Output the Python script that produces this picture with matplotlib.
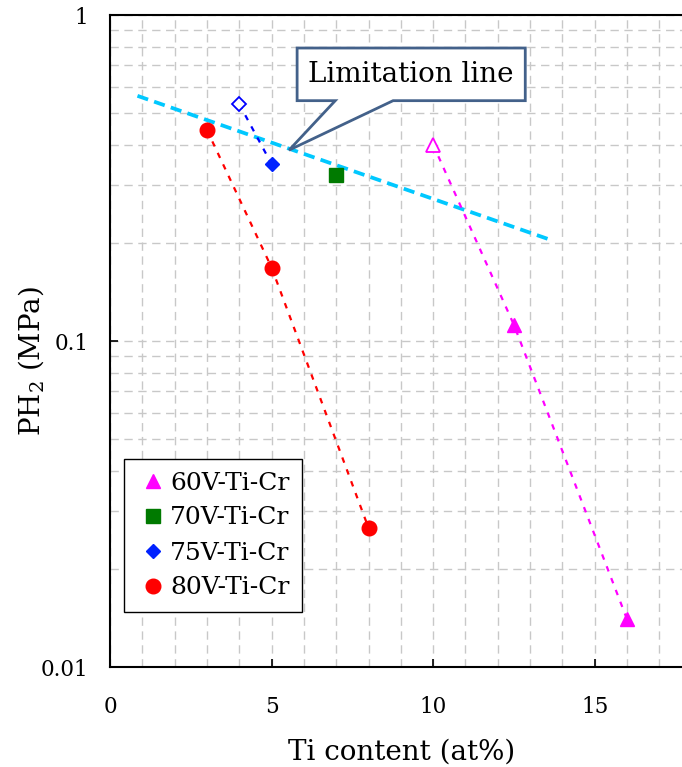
import matplotlib
matplotlib.use("Agg")
import matplotlib.pyplot as plt
from matplotlib.patches import Polygon
from matplotlib.ticker import FixedLocator, MultipleLocator, FuncFormatter, LogLocator, NullFormatter

plt.rcParams['font.family'] = ['DejaVu Serif']
plt.rcParams['mathtext.fontset'] = 'dejavuserif'

# ---- data ----
v60_x = [10.0, 12.5, 16.0]
v60_y = [0.40, 0.112, 0.014]
v70_x = [7.0]
v70_y = [0.323]
v75_x = [4.0, 5.0]
v75_y = [0.533, 0.349]
v80_x = [3.0, 5.0, 8.0]
v80_y = [0.444, 0.168, 0.0267]
limit_x = [0.85, 13.65]
limit_y = [0.565, 0.204]

series_labels = ['60V-Ti-Cr', '70V-Ti-Cr', '75V-Ti-Cr', '80V-Ti-Cr']
x_ticks = [0, 5, 10, 15]
y_ticks = [0.01, 0.1, 1]
annot_text = 'Limitation line'

# ---- figure ----
fig = plt.figure(figsize=(6.82, 7.67), dpi=100)
ax = fig.add_axes([110 / 682, 1 - 667 / 767, 1 - 110 / 682, (667 - 15) / 767])
ax.set_yscale('log')
ax.set_xlim(0, 17.7)
ax.set_ylim(0.01, 1)

grid_kw = dict(color='#c8c8c8', linestyle=(0, (6, 4)), linewidth=1.0)
ax.xaxis.set_major_locator(FixedLocator(x_ticks))
ax.xaxis.set_minor_locator(MultipleLocator(1))
ax.yaxis.set_major_locator(FixedLocator(y_ticks))
ax.yaxis.set_minor_locator(LogLocator(base=10, subs=range(2, 10)))
ax.yaxis.set_minor_formatter(NullFormatter())
ax.yaxis.set_major_formatter(FuncFormatter(lambda v, p: '%g' % v))
ax.grid(True, which='both', axis='both', **grid_kw)
ax.set_axisbelow(True)

ax.tick_params(which='major', direction='in', length=6, width=1.2, labelsize=15.5)
ax.tick_params(axis='x', which='major', pad=21)
ax.tick_params(axis='y', which='major', pad=15.5)
ax.tick_params(which='minor', length=0)

for s in ['left', 'bottom', 'top']:
    ax.spines[s].set_linewidth(1.5)
ax.spines['right'].set_visible(False)

dot = (0, (2.5, 3.2))
# limitation line
ax.plot(limit_x, limit_y, color='#00c8ff', linestyle=(0, (3, 1.7)), linewidth=2.7, zorder=3)

# series lines
ax.plot(v60_x, v60_y, color='#ff00ff', linestyle=dot, linewidth=1.6, zorder=3)
ax.plot(v75_x, v75_y, color='#0000ff', linestyle=dot, linewidth=1.6, zorder=3)
ax.plot(v80_x, v80_y, color='#ff0000', linestyle=dot, linewidth=1.6, zorder=3)

# markers
ax.plot(v60_x[:1], v60_y[:1], linestyle='none', marker='^', markersize=10,
        markerfacecolor='white', markeredgecolor='#ff00ff', markeredgewidth=1.3, zorder=4)
h60, = ax.plot(v60_x[1:], v60_y[1:], linestyle='none', marker='^', markersize=10,
               color='#ff00ff', zorder=4)
h70, = ax.plot(v70_x, v70_y, linestyle='none', marker='s', markersize=10,
               color='#007a00', zorder=4)
ax.plot(v75_x[:1], v75_y[:1], linestyle='none', marker='D', markersize=7,
        markerfacecolor='white', markeredgecolor='#0000ff', markeredgewidth=1.3, zorder=4)
h75, = ax.plot(v75_x[1:], v75_y[1:], linestyle='none', marker='D', markersize=7.5,
               color='#0022ff', zorder=4)
h80, = ax.plot(v80_x, v80_y, linestyle='none', marker='o', markersize=10.5,
               color='#ff0000', zorder=4)

leg = ax.legend([h60, h70, h75, h80], series_labels, loc='upper left',
                bbox_to_anchor=(14 / 572, (667 - 459) / 652), fontsize=18,
                frameon=True, fancybox=False, framealpha=1, edgecolor='black',
                borderpad=0.5, labelspacing=0.48, handlelength=1.3,
                handletextpad=0.05, borderaxespad=0, markerscale=1.0)
leg.get_frame().set_linewidth(1.0)

# callout
bx0, bx1 = 5.79, 12.85
by0, by1 = 0.546, 0.792
tx0, tx1 = 6.97, 8.76
tip = (5.54, 0.385)
verts = [(bx0, by0), (tx0, by0), tip, (tx1, by0), (bx1, by0), (bx1, by1), (bx0, by1)]
poly = Polygon(verts, closed=True, facecolor='white', edgecolor='#43618a',
               linewidth=2, zorder=6)
ax.add_patch(poly)
ax.text((bx0 + bx1) / 2, (by0 * by1) ** 0.5, annot_text, ha='center', va='center',
        fontsize=20, zorder=7)

ax.set_xlabel('Ti content (at%)', fontsize=20, va='center')
ax.xaxis.set_label_coords(0.509, -0.131)
ax.set_ylabel(r'PH$_\mathregular{2}$ (MPa)', fontsize=20, va='center')
ax.yaxis.set_label_coords(-0.138, 0.47)

fig.savefig('out.png', dpi=100)
